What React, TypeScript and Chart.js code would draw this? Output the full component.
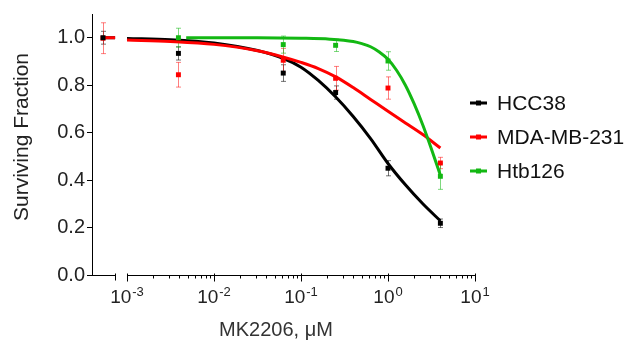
import React, { useEffect, useRef } from "react";
import { Chart, registerables } from "chart.js";

Chart.register(...registerables);

// ---- data ----
const AXIS_MIN = 0.000396; // left end of the broken x axis
const BREAK_END = 0.00073; // end of the short "control" segment
const CONTROL_X = 0.00053; // plotted position of untreated control
const AXIS_MAX = 10;
const DECADES = [-3, -2, -1, 0, 1];

const seriesNames = ["HCC38", "MDA-MB-231", "Htb126"];
const seriesColors = ["#000000", "#ff0000", "#13b813"];
const errColors = ["rgba(0,0,0,0.55)", "rgba(255,0,0,0.5)", "rgba(19,184,19,0.55)"];

const doses = [CONTROL_X, 0.0039, 0.0625, 0.25, 1, 4];
const hcc38 = [1.0, 0.934, 0.851, 0.769, 0.45, 0.218];
const hcc38Err = [0.027, 0.028, 0.035, 0.028, 0.032, 0.018];
const mda = [0.998, 0.844, 0.905, 0.829, 0.788, 0.472];
const mdaErr = [0.065, 0.052, 0.05, 0.05, 0.047, 0.024];
const htbDoses = [0.0039, 0.0625, 0.25, 1, 4];
const htb = [1.0, 0.971, 0.968, 0.902, 0.416];
const htbErr = [0.04, 0.036, 0.026, 0.039, 0.055];

// fitted curves
const fitX = [0.001, 0.00316, 0.01, 0.0316, 0.0631, 0.1, 0.158, 0.251, 0.398, 0.631, 1, 1.585, 2.512, 4];
const hcc38Fit = [0.997, 0.992, 0.978, 0.946, 0.912, 0.876, 0.82, 0.75, 0.668, 0.575, 0.47, 0.38, 0.3, 0.228];
const mdaFit = [0.99, 0.984, 0.972, 0.945, 0.918, 0.896, 0.87, 0.835, 0.79, 0.74, 0.69, 0.641, 0.592, 0.535];
const htbFitX = [0.00479, 0.01, 0.0316, 0.1, 0.215, 0.398, 0.501, 0.631, 0.794, 1, 1.259, 1.585, 1.995, 2.512, 3.162, 4];
const htbFit = [1.0, 1.0, 1.0, 0.998, 0.994, 0.984, 0.975, 0.962, 0.94, 0.909, 0.862, 0.8, 0.722, 0.632, 0.53, 0.42];
const controlSegX = [CONTROL_X, BREAK_END];
const controlSegY = [1.0, 1.0];

const Y_TICKS = [0, 0.2, 0.4, 0.6, 0.8, 1.0];
const FONT = "'Liberation Sans', Arial, sans-serif";

const pts = (xs: number[], ys: number[]) => xs.map((x, i) => ({ x, y: ys[i] }));

const errorSets = [
  { xs: doses, ys: hcc38, es: hcc38Err },
  { xs: doses, ys: mda, es: mdaErr },
  { xs: htbDoses, ys: htb, es: htbErr },
];

const decorPlugin = {
  id: "decor",
  beforeDatasetsDraw(chart: any) {
    const ctx = chart.ctx;
    const xs = chart.scales.x;
    const ys = chart.scales.y;
    ctx.save();
    ctx.lineWidth = 1;
    errorSets.forEach((s, k) => {
      ctx.strokeStyle = errColors[k];
      s.xs.forEach((xv, i) => {
        const px = Math.round(xs.getPixelForValue(xv)) + 0.5;
        const top = ys.getPixelForValue(s.ys[i] + s.es[i]);
        const bot = ys.getPixelForValue(s.ys[i] - s.es[i]);
        ctx.beginPath();
        ctx.moveTo(px, top);
        ctx.lineTo(px, bot);
        ctx.moveTo(px - 2.5, top);
        ctx.lineTo(px + 2.5, top);
        ctx.moveTo(px - 2.5, bot);
        ctx.lineTo(px + 2.5, bot);
        ctx.stroke();
      });
    });
    ctx.restore();
  },
  afterDraw(chart: any) {
    const ctx = chart.ctx;
    const xs = chart.scales.x;
    const area = chart.chartArea;
    const yAxis = area.bottom + 0.5;
    ctx.save();
    ctx.strokeStyle = "#000";
    ctx.lineWidth = 1;
    // broken x axis
    const pMin = xs.getPixelForValue(AXIS_MIN);
    const pBreak = Math.round(xs.getPixelForValue(BREAK_END)) + 0.5;
    const pStart = Math.round(xs.getPixelForValue(1e-3)) + 0.5;
    const pEnd = Math.round(xs.getPixelForValue(AXIS_MAX)) + 0.5;
    ctx.beginPath();
    ctx.moveTo(pMin, yAxis);
    ctx.lineTo(pBreak, yAxis);
    ctx.moveTo(pBreak, yAxis - 2);
    ctx.lineTo(pBreak, yAxis + 5);
    ctx.moveTo(pStart, yAxis);
    ctx.lineTo(pEnd, yAxis);
    ctx.stroke();
    // ticks
    ctx.beginPath();
    DECADES.forEach((d) => {
      const p = Math.round(xs.getPixelForValue(Math.pow(10, d))) + 0.5;
      ctx.moveTo(p, yAxis - 2);
      ctx.lineTo(p, yAxis + 6);
      if (d < 1) {
        for (let m = 2; m <= 9; m++) {
          const q = Math.round(xs.getPixelForValue(m * Math.pow(10, d))) + 0.5;
          ctx.moveTo(q, yAxis);
          ctx.lineTo(q, yAxis + 3);
        }
      }
    });
    ctx.stroke();
    // tick labels 10^k
    ctx.fillStyle = "#222";
    ctx.textBaseline = "alphabetic";
    DECADES.forEach((d) => {
      const p = xs.getPixelForValue(Math.pow(10, d));
      const base = "10";
      const exp = d < 0 ? "-" + Math.abs(d) : String(d);
      ctx.font = `19px ${FONT}`;
      const wb = ctx.measureText(base).width;
      ctx.font = `13px ${FONT}`;
      const we = ctx.measureText(exp).width;
      const gap = 1;
      const left = p - (wb + gap + we) / 2;
      ctx.font = `19px ${FONT}`;
      ctx.fillText(base, left, 303);
      ctx.font = `13px ${FONT}`;
      ctx.fillText(exp, left + wb + gap, 296);
    });
    // x title
    ctx.fillStyle = "#333";
    ctx.font = `20px ${FONT}`;
    ctx.textAlign = "center";
    ctx.textBaseline = "middle";
    ctx.fillText("MK2206, \u03bcM", 276, 330);
    // y title
    ctx.save();
    ctx.translate(22, 137);
    ctx.rotate(-Math.PI / 2);
    ctx.fillStyle = "#222";
    ctx.font = `21px ${FONT}`;
    ctx.fillText("Surviving Fraction", 0, 0);
    ctx.restore();
    // legend
    const legY = [103, 137, 171];
    ctx.textAlign = "left";
    ctx.font = `21px ${FONT}`;
    seriesNames.forEach((name, i) => {
      const y = legY[i];
      ctx.fillStyle = seriesColors[i];
      ctx.fillRect(470, y - 1.5, 17, 3);
      ctx.fillRect(476, y - 2.5, 5, 5);
      ctx.fillStyle = "#111";
      ctx.fillText(name, 497, y + 1);
    });
    ctx.restore();
  },
};

export default function App() {
  const ref = useRef<HTMLCanvasElement | null>(null);
  useEffect(() => {
    if (!ref.current) return;
    const pointDs = (label: string, xs: number[], ys: number[], c: string) => ({
      type: "scatter" as const,
      label,
      data: pts(xs, ys),
      showLine: false,
      pointStyle: "rect",
      pointRadius: 3.5,
      pointBorderWidth: 0,
      pointBackgroundColor: c,
      borderColor: c,
    });
    const lineDs = (label: string, xs: number[], ys: number[], c: string) => ({
      type: "line" as const,
      label,
      data: pts(xs, ys),
      borderColor: c,
      borderWidth: 3,
      pointRadius: 0,
      fill: false,
      cubicInterpolationMode: "monotone" as const,
    });
    const chart = new Chart(ref.current, {
      type: "line",
      data: {
        datasets: [
          pointDs("HCC38 pts", doses, hcc38, seriesColors[0]),
          pointDs("MDA pts", doses, mda, seriesColors[1]),
          pointDs("Htb126 pts", htbDoses, htb, seriesColors[2]),
          lineDs("Htb126 fit", htbFitX, htbFit, seriesColors[2]),
          lineDs("MDA ctrl", controlSegX, controlSegY, seriesColors[1]),
          lineDs("MDA fit", fitX, mdaFit, seriesColors[1]),
          lineDs("HCC38 ctrl", controlSegX, controlSegY, seriesColors[0]),
          lineDs("HCC38 fit", fitX, hcc38Fit, seriesColors[0]),
        ] as any,
      },
      options: {
        animation: false,
        responsive: false,
        layout: { padding: { top: 8, right: 164, left: 0, bottom: 0 } },
        plugins: { legend: { display: false }, tooltip: { enabled: false } },
        scales: {
          x: {
            type: "logarithmic",
            min: AXIS_MIN,
            max: AXIS_MAX,
            grid: { display: false },
            border: { display: false },
            ticks: { display: false },
            afterFit: (s: any) => {
              s.height = 70;
            },
          },
          y: {
            type: "linear",
            min: 0,
            max: 1.1,
            afterBuildTicks: (s: any) => {
              s.ticks = Y_TICKS.map((v) => ({ value: v }));
            },
            ticks: {
              callback: (v: any) => Number(v).toFixed(1),
              font: { family: FONT, size: 20 },
              color: "#222",
              padding: 2,
            },
            grid: { drawOnChartArea: false, drawTicks: true, tickLength: 5, color: "#000" },
            border: { display: true, color: "#000", width: 1 },
            afterFit: (s: any) => {
              s.width = 92;
            },
          },
        },
      } as any,
      plugins: [decorPlugin],
    });
    return () => chart.destroy();
  }, []);
  return (
    <div style={{ position: "fixed", left: 0, top: 0, width: 639, height: 345, background: "#fff" }}>
      <canvas ref={ref} width={639} height={345} style={{ width: 639, height: 345, display: "block" }} />
    </div>
  );
}
